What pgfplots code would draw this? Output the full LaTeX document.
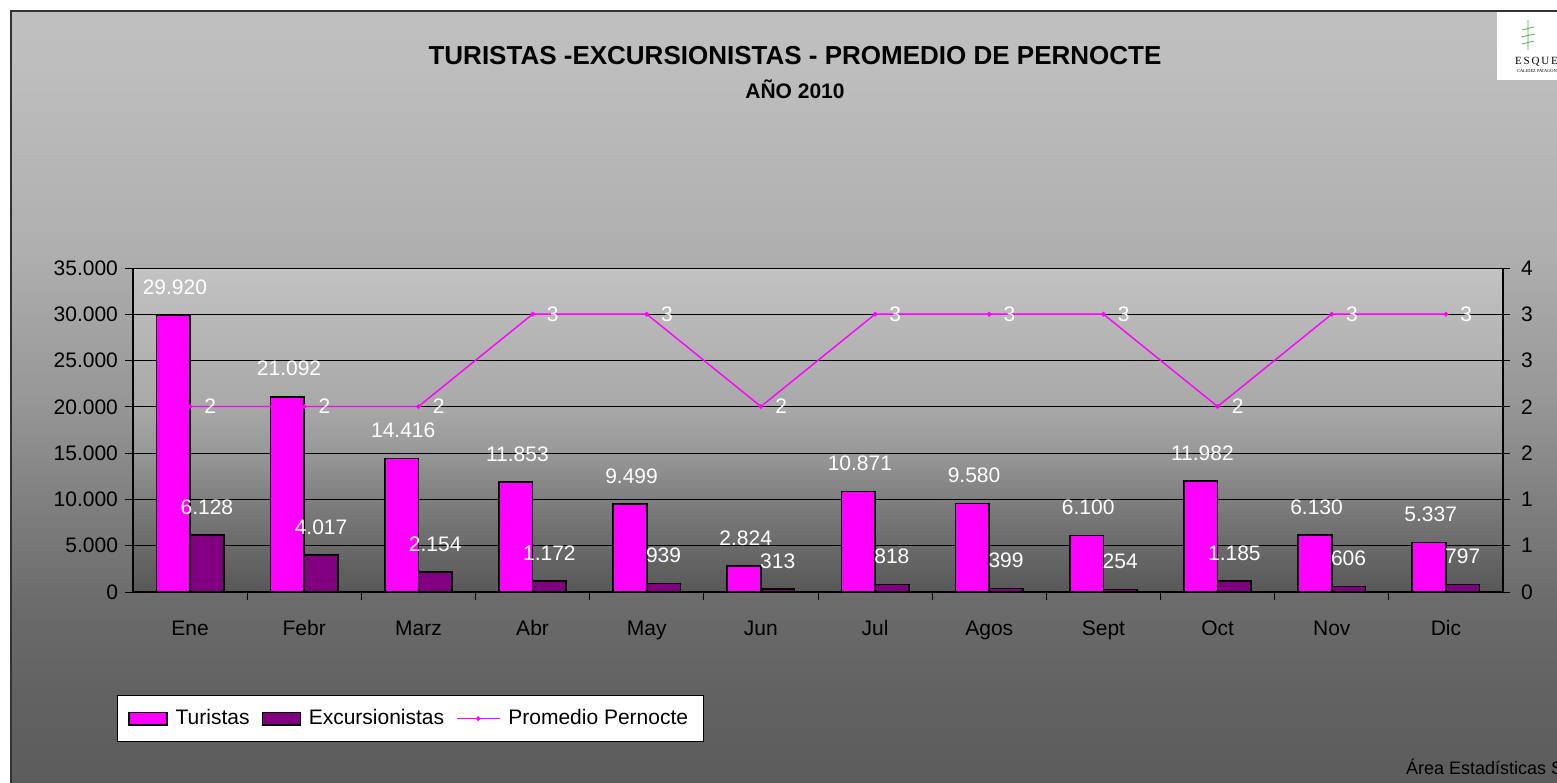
\documentclass[border=0pt]{standalone}
\usepackage{fontspec}
\setmainfont{Liberation Sans}
\newfontfamily\logofont{Liberation Serif}
\usepackage{pgfplots}
\pgfplotsset{compat=1.18}
\definecolor{turis}{HTML}{FF00FF}
\definecolor{excur}{HTML}{800080}
\definecolor{frame}{HTML}{333333}

% Excel-style gradients (0bp..100bp, path fitted to 25bp..75bp)
\pgfdeclareverticalshading{outerbg}{100bp}{
  color(0bp)=(white!36!black); color(25bp)=(white!36!black);
  color(30.3bp)=(white!38!black); color(36.8bp)=(white!42!black);
  color(43.3bp)=(white!50!black); color(49.8bp)=(white!59!black);
  color(59.5bp)=(white!68.6!black); color(71.8bp)=(white!74.5!black);
  color(75bp)=(white!75!black); color(100bp)=(white!75!black)}
\pgfdeclareverticalshading{plotbg}{100bp}{
  color(0bp)=(white!34.5!black); color(25bp)=(white!34.5!black);
  color(32.1bp)=(white!41.6!black); color(39.2bp)=(white!49.4!black);
  color(46.5bp)=(white!59.6!black); color(53.5bp)=(white!65.9!black);
  color(71.6bp)=(white!74.5!black); color(75bp)=(white!76.5!black);
  color(100bp)=(white!76.5!black)}

\begin{document}
\begin{tikzpicture}
\begin{scope}[x=0.5pt,y=-0.5pt]
\useasboundingbox (0,0) rectangle (1557,782);
\clip (0,0) rectangle (1557,782);
\fill[white] (0,0) rectangle (1557,782);
\shade[shading=outerbg] (11,11) rectangle (1562,787);
\draw[frame, line width=1pt] (1562,11) -- (11,11) -- (11,787);

% logo corner
\fill[white] (1497,12) rectangle (1557,80);
\draw[green!40!gray, line width=0.4pt] (1528,20) -- (1528,50)
  (1522,30) -- (1534,27) (1521,37) -- (1535,34) (1522,44) -- (1534,41);
\node[font=\logofont\fontsize{5.5}{6}\selectfont, anchor=west] at (1508,62) {E\,S\,Q\,U\,E\,L};
\node[font=\logofont\fontsize{2.2}{3}\selectfont, anchor=west] at (1510,71) {CALIDEZ PATAGÓNICA};

% titles
\node[font=\bfseries\fontsize{13}{15}\selectfont] at (795,56) {TURISTAS -EXCURSIONISTAS - PROMEDIO DE PERNOCTE};
\node[font=\bfseries\fontsize{10.5}{12}\selectfont] at (795,89) {AÑO 2010};

% plot area background
\shade[shading=plotbg] (133,268) rectangle (1503,592);
\node[anchor=west, font=\fontsize{9}{10}\selectfont] at (1399,767) {Área Estadísticas ST};
\end{scope}

\begin{axis}[
  at={(66.5pt,-296pt)}, anchor=south west,
  scale only axis, width=685pt, height=162pt,
  xmin=-0.5, xmax=11.5, ymin=0, ymax=35000,
  clip=false, scaled y ticks=false,
  axis x line*=bottom, axis y line*=left,
  axis line style={-, black, line width=0.6pt},
  xtick={0.5,1.5,...,10.5}, xticklabels={},
  extra x ticks={0,1,...,11},
  extra x tick labels={Ene,Febr,Marz,Abr,May,Jun,Jul,Agos,Sept,Oct,Nov,Dic},
  extra x tick style={major tick length=0pt,
    tick label style={yshift=-10.5pt, text height=7.6pt, text depth=2pt}},
  ytick={0,5000,...,35000},
  yticklabels={0,5.000,10.000,15.000,20.000,25.000,30.000,35.000},
  ymajorgrids, grid style={black, line width=0.5pt},
  tick align=outside, major tick length=4pt,
  tick style={black, line width=0.5pt},
  tick label style={font=\fontsize{10.5}{12}\selectfont, text=black},
  yticklabel style={xshift=0pt},
  /pgf/number format/.cd, fixed, precision=0, 1000 sep={.}, assume math mode=true,
  /pgfplots/.cd,
  nodes near coords,
  nodes near coords style={anchor=center, yshift=14pt, text=white,
    font=\fontsize{10.5}{12}\selectfont},
  legend style={at={(-0.0117,-0.318)}, anchor=north west, legend columns=3,
    draw=black, line width=0.5pt, fill=white, font=\fontsize{10.5}{12}\selectfont,
    inner xsep=5.5pt, inner ysep=5pt,
    /tikz/every odd column/.append style={column sep=2pt},
    /tikz/every even column/.append style={column sep=4pt}},
  legend cell align=left,
]
\addplot[ybar, bar width=0.295, bar shift=-0.1475, fill=turis, draw=black, line width=0.8pt,
  every node near coord/.append style={xshift=-7.6pt},
  legend image code/.code={\draw[fill=turis, draw=black, line width=0.6pt] (0pt,-3.2pt) rectangle (19pt,3.2pt);}]
  coordinates {(0,29920)(1,21092)(2,14416)(3,11853)(4,9499)(5,2824)
               (6,10871)(7,9580)(8,6100)(9,11982)(10,6130)(11,5337)};
\addlegendentry{Turistas}
\addplot[ybar, bar width=0.295, bar shift=0.1475, fill=excur, draw=black, line width=0.8pt,
  every node near coord/.append style={xshift=8.4pt},
  legend image code/.code={\draw[fill=excur, draw=black, line width=0.6pt] (0pt,-3.2pt) rectangle (19pt,3.2pt);}]
  coordinates {(0,6128)(1,4017)(2,2154)(3,1172)(4,939)(5,313)
               (6,818)(7,399)(8,254)(9,1185)(10,606)(11,797)};
\addlegendentry{Excursionistas}
\addlegendimage{turis, line width=0.6pt,
  legend image code/.code={\draw[turis, line width=0.6pt] (0pt,0pt) -- (21.5pt,0pt);
    \fill[turis] (10.75pt,0pt) circle (0.8pt);}}
\addlegendentry{Promedio Pernocte\hspace{6pt}}
\end{axis}

\begin{axis}[
  at={(66.5pt,-296pt)}, anchor=south west,
  scale only axis, width=685pt, height=162pt,
  xmin=-0.5, xmax=11.5, ymin=0, ymax=4,
  clip=false,
  hide x axis, axis y line*=right,
  axis line style={-, black, line width=0.6pt},
  ytick={0,0.571429,1.142857,1.714286,2.285714,2.857143,3.428571,4},
  yticklabels={0,1,1,2,2,3,3,4},
  tick align=center, major tick length=7pt,
  tick style={black, line width=0.5pt},
  tick label style={font=\fontsize{10.5}{12}\selectfont, text=black},
  yticklabel style={xshift=2pt},
  /pgf/number format/.cd, fixed, precision=0, assume math mode=true,
  /pgfplots/.cd,
]
\addplot[turis, line width=0.7pt, mark=*, mark size=0.8pt,
  nodes near coords, point meta=y,
  nodes near coords style={anchor=west, xshift=3.5pt, yshift=0pt, text=white,
    font=\fontsize{10.5}{12}\selectfont}]
  coordinates {(0,2.29)(1,2.29)(2,2.29)(3,3.43)(4,3.43)(5,2.29)
               (6,3.43)(7,3.43)(8,3.43)(9,2.29)(10,3.43)(11,3.43)};
\end{axis}
\end{tikzpicture}
\end{document}
